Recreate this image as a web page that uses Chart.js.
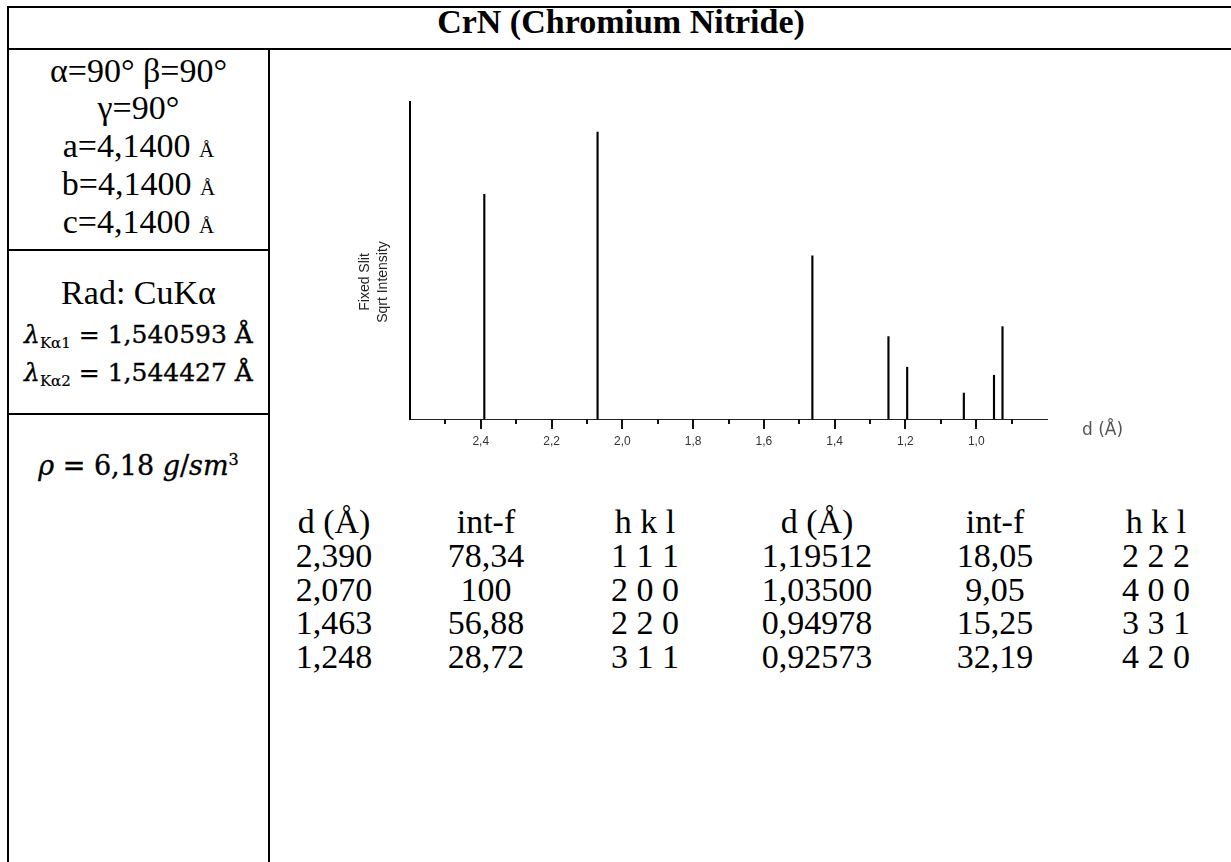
<!DOCTYPE html>
<html>
<head>
<meta charset="utf-8">
<script src="https://cdn.jsdelivr.net/npm/chart.js@4"></script>
<style>
  body { margin: 0; background: #fff; }
  #page { position: relative; width: 1231px; height: 862px; overflow: hidden; font-family: "Liberation Serif", "Times New Roman", serif; color: #000; }
  .rule { position: absolute; background: #000; }
  .line { position: absolute; white-space: nowrap; text-align: center; font-size: 34px; height: 36px; line-height: 36px; }
  .small { font-size: 21px; }
  .eq { font-family: "DejaVu Serif", serif; font-size: 25px; -webkit-text-stroke: 0.35px #000; }
  .eq sub { font-size: 15px; vertical-align: -5px; -webkit-text-stroke: 0.2px #000; }
  #chartBox { position: absolute; left: 272px; top: 52px; }
</style>
</head>
<body>
<div id="page">
  <!-- table rules -->
  <div class="rule" style="left:7px; top:6px; width:1224px; height:2px"></div>
  <div class="rule" style="left:7px; top:48px; width:1224px; height:2px"></div>
  <div class="rule" style="left:7px; top:6px; width:2px; height:856px"></div>
  <div class="rule" style="left:268px; top:48px; width:2px; height:814px"></div>
  <div class="rule" style="left:7px; top:249px; width:263px; height:2px"></div>
  <div class="rule" style="left:7px; top:413px; width:263px; height:2px"></div>

  <div class="line" style="left:321px; width:600px; top:4px; font-weight:bold; font-size:34px">CrN (Chromium Nitride)</div>

  <div class="line" style="left:9px; width:259px; top:53px">α=90° β=90°</div>
  <div class="line" style="left:9px; width:259px; top:90px">γ=90°</div>
  <div class="line" style="left:9px; width:259px; top:128px">a=4,1400 <span class="small">Å</span></div>
  <div class="line" style="left:9px; width:259px; top:166px">b=4,1400 <span class="small">Å</span></div>
  <div class="line" style="left:9px; width:259px; top:204px">c=4,1400 <span class="small">Å</span></div>

  <div class="line" style="left:9px; width:259px; top:275px">Rad: CuKα</div>
  <div class="line eq" style="left:9px; width:259px; top:317px"><i>λ</i><sub>Kα1</sub> = 1,540593 Å</div>
  <div class="line eq" style="left:9px; width:259px; top:355px"><i>λ</i><sub>Kα2</sub> = 1,544427 Å</div>
  <div class="line eq" style="left:9px; width:259px; top:442px; font-size:27px"><i>ρ</i> = 6,18 <i>g</i>/<i>sm</i><sup style="font-size:16px">3</sup></div>

  <div id="chartBox"><canvas id="xrd" width="950" height="440"></canvas></div>
  <div id="peakTable"></div>
</div>

<script>
// reflection list for CrN
const dSpacing = [2.390, 2.070, 1.463, 1.248, 1.19512, 1.03500, 0.94978, 0.92573];
const intensity = [78.34, 100, 56.88, 28.72, 18.05, 9.05, 15.25, 32.19];
const hkl = ["1 1 1", "2 0 0", "2 2 0", "3 1 1", "2 2 2", "4 0 0", "3 3 1", "4 2 0"];

const dMin = 0.8;
const dMax = 2.6;
const intMax = 110.5;

const comma = (s) => String(s).replace(".", ",");

// two side-by-side column groups under the pattern
function buildTable() {
  const host = document.getElementById("peakTable");
  const colX = [334, 486, 645, 817, 995, 1156];
  const rowY = (i) => 522 + i * 33.8;
  const put = (text, cx, cy) => {
    const el = document.createElement("div");
    el.className = "line";
    el.style.left = (cx - 90) + "px";
    el.style.width = "180px";
    el.style.top = (cy - 18) + "px";
    el.textContent = text;
    host.appendChild(el);
  };
  for (let g = 0; g < 2; g++) {
    put("d (Å)", colX[g * 3], rowY(0));
    put("int-f", colX[g * 3 + 1], rowY(0));
    put("h k l", colX[g * 3 + 2], rowY(0));
    for (let r = 0; r < 4; r++) {
      const i = g * 4 + r;
      put(comma(dSpacing[i].toFixed(g === 0 ? 3 : 5)), colX[g * 3], rowY(r + 1));
      put(comma(intensity[i]), colX[g * 3 + 1], rowY(r + 1));
      put(hkl[i], colX[g * 3 + 2], rowY(r + 1));
    }
  }
}

// tick marks below the axis (long on 0.2 steps), axis captions
const axisDecor = {
  id: "axisDecor",
  afterDraw(chart) {
    const { ctx, chartArea } = chart;
    const x = chart.scales.x;
    ctx.save();
    ctx.strokeStyle = "#111";
    ctx.lineWidth = 2;
    x.ticks.forEach((t) => {
      if (t.value <= x.min + 1e-6 || t.value >= x.max - 1e-6) return;
      const px = Math.round(x.getPixelForValue(t.value));
      const len = Math.round(t.value * 10) % 2 === 0 ? 10 : 5;
      ctx.beginPath();
      ctx.moveTo(px, chartArea.bottom);
      ctx.lineTo(px, chartArea.bottom + len);
      ctx.stroke();
    });

    ctx.fillStyle = "#222";
    ctx.font = "14px 'Liberation Sans', Arial, sans-serif";
    ctx.textAlign = "center";
    ctx.textBaseline = "middle";
    ctx.translate(chartArea.left - 36, chartArea.top + 180);
    ctx.rotate(-Math.PI / 2);
    ctx.fillText("Fixed Slit", 0, -9);
    ctx.fillText("Sqrt Intensity", 0, 9);
    ctx.restore();

    ctx.save();
    ctx.fillStyle = "#555";
    ctx.font = "17px 'DejaVu Sans', 'Liberation Sans', sans-serif";
    ctx.textAlign = "left";
    ctx.textBaseline = "middle";
    ctx.fillText("d (Å)", chartArea.right + 35, chartArea.bottom + 12);
    ctx.restore();
  },
};

function drawPattern() {
  const ctx = document.getElementById("xrd").getContext("2d");
  new Chart(ctx, {
    type: "bar",
    data: {
      datasets: [
        {
          data: dSpacing.map((d, i) => ({ x: d, y: intensity[i] })),
          backgroundColor: "#000",
          barThickness: 1.5,
          grouped: false,
        },
      ],
    },
    plugins: [axisDecor],
    options: {
      responsive: false,
      animation: false,
      layout: { padding: { left: 138, top: 50, right: 175, bottom: 23 } },
      plugins: {
        legend: { display: false },
        tooltip: { enabled: false },
      },
      scales: {
        x: {
          type: "linear",
          reverse: true,
          min: dMin,
          max: dMax,
          offset: false,
          grid: { display: false, drawTicks: false },
          border: { color: "#222", width: 1 },
          ticks: {
            stepSize: 0.1,
            autoSkip: false,
            maxRotation: 0,
            padding: 15,
            color: "#333",
            font: { family: "'Liberation Sans', Arial, sans-serif", size: 12 },
            callback: (v) => {
              const k = Math.round(v * 10);
              if (k % 2 !== 0 || k === 8 || k === 26) return "";
              return comma((k / 10).toFixed(1));
            },
          },
          afterFit: (scale) => { scale.height = 50; },
        },
        y: {
          min: 0,
          max: intMax,
          grid: { display: false, drawTicks: false },
          border: { color: "#000", width: 2 },
          ticks: { display: false },
          afterFit: (scale) => { scale.width = 0; },
        },
      },
    },
  });
}

buildTable();
drawPattern();
</script>
</body>
</html>
